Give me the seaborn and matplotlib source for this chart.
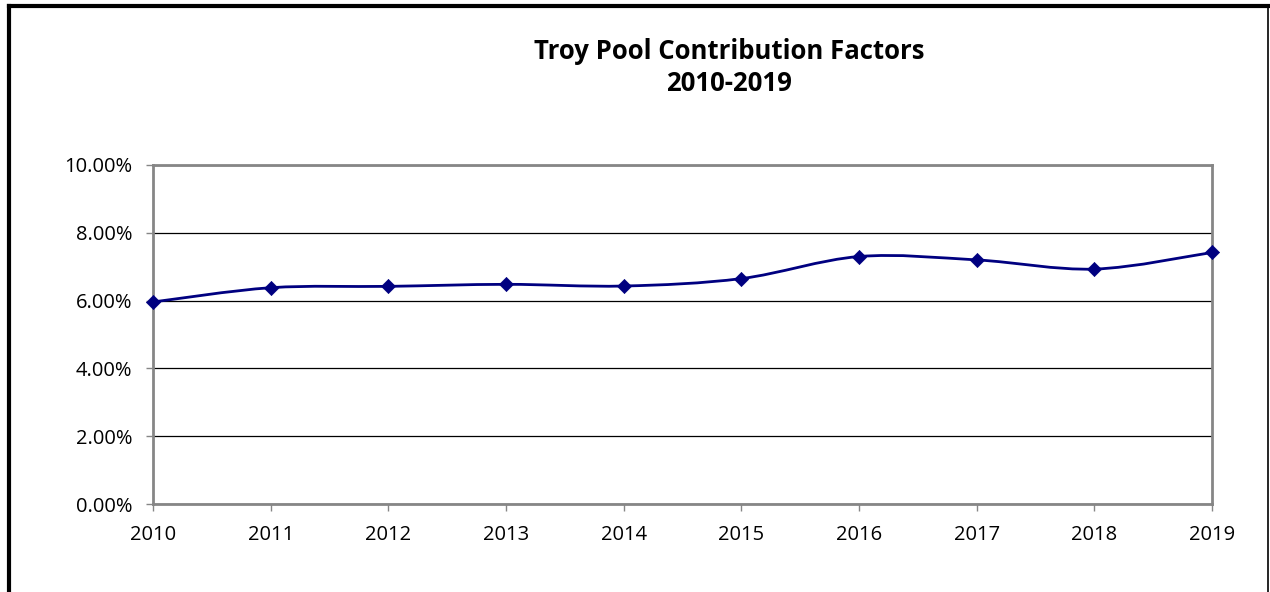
import numpy as np
import seaborn as sns
import matplotlib.pyplot as plt
from matplotlib.path import Path
from matplotlib.patches import PathPatch
from matplotlib.lines import Line2D
from matplotlib.ticker import PercentFormatter

# data
years = [2010, 2011, 2012, 2013, 2014, 2015, 2016, 2017, 2018, 2019]
factors = [0.0596, 0.0638, 0.0642, 0.0648, 0.0643, 0.0665, 0.0730, 0.0720, 0.0693, 0.0742]
y_ticks = [0.0, 0.02, 0.04, 0.06, 0.08, 0.10]

NAVY = "#000080"
GRAY = "#868686"


def smoothPath(xs, ys):
    """Excel-like smoothed line: Catmull-Rom segments as cubic Bezier curves"""
    pts = np.column_stack([xs, ys]).astype(float)
    padded = np.vstack([pts[0], pts, pts[-1]])
    verts = [pts[0]]
    codes = [Path.MOVETO]
    for i in range(len(pts) - 1):
        p0, p1, p2, p3 = padded[i], padded[i + 1], padded[i + 2], padded[i + 3]
        c1 = p1 + (p2 - p0) / 6.0
        c2 = p2 - (p3 - p1) / 6.0
        verts += [c1, c2, p2]
        codes += [Path.CURVE4] * 3
    return Path(verts, codes)


def main():
    sns.set_theme(style="white")
    plt.rcParams["font.family"] = ["Open Sans", "DejaVu Sans"]

    fig = plt.figure(figsize=(12.7, 5.92), dpi=100)
    ax = fig.add_axes([0.1205, 0.1486, 0.8339, 0.5727])

    # smoothed connecting line
    patch = PathPatch(smoothPath(years, factors), facecolor="none",
                      edgecolor=NAVY, lw=2.0, zorder=3, capstyle="round")
    ax.add_patch(patch)

    # diamond markers
    sns.scatterplot(x=years, y=factors, ax=ax, marker="D", s=52,
                    color=NAVY, edgecolor=NAVY, linewidth=0.5, zorder=4,
                    clip_on=False)

    ax.set_xlim(years[0], years[-1])
    ax.set_ylim(0, 0.10)
    ax.set_xticks(years)
    ax.set_xticklabels([str(y) for y in years])
    ax.set_yticks(y_ticks)
    ax.yaxis.set_major_formatter(PercentFormatter(1.0, decimals=2))

    ax.grid(axis="y", color="black", lw=0.9, zorder=1)
    ax.grid(axis="x", visible=False)
    ax.set_axisbelow(True)

    for side in ["left", "bottom", "top", "right"]:
        ax.spines[side].set_visible(True)
        ax.spines[side].set_color(GRAY)
        ax.spines[side].set_linewidth(2.0)
        ax.spines[side].set_zorder(2)

    ax.tick_params(axis="both", which="major", direction="out", length=5,
                   width=1.0, color=GRAY, labelsize=14.5, labelcolor="black",
                   bottom=True, left=True)
    ax.tick_params(axis="y", pad=10)
    ax.tick_params(axis="x", pad=10)

    fig.text(0.574, 0.886, "Troy Pool Contribution Factors\n2010-2019",
             ha="center", va="center", fontsize=18.5, fontweight="bold",
             color="black", linespacing=1.2)

    # chart frame (left and top thick, right thin)
    fig.add_artist(Line2D([9 / 1270, 9 / 1270], [0, 1 - 6 / 592],
                          transform=fig.transFigure, color="black", lw=3.0,
                          solid_capstyle="projecting"))
    fig.add_artist(Line2D([9 / 1270, 1268 / 1270], [1 - 6 / 592, 1 - 6 / 592],
                          transform=fig.transFigure, color="black", lw=3.0,
                          solid_capstyle="projecting"))
    fig.add_artist(Line2D([1268 / 1270, 1268 / 1270], [0, 1 - 6 / 592],
                          transform=fig.transFigure, color="black", lw=1.2))

    fig.savefig("out.png", dpi=100)


if __name__ == "__main__":
    main()
